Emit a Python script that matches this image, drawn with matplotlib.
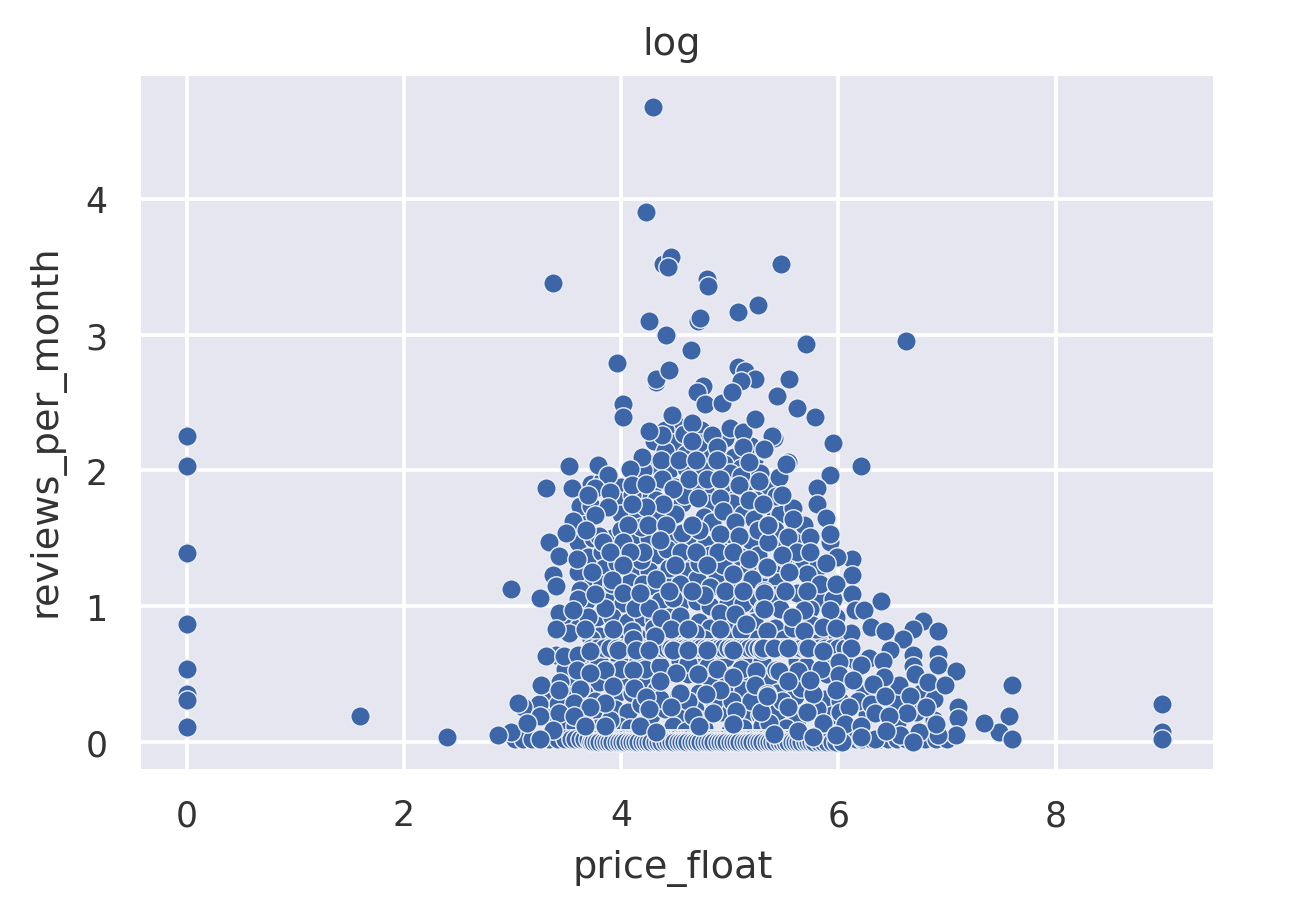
import matplotlib
matplotlib.use("Agg")
import matplotlib.pyplot as plt
import seaborn as sns

sns.set_theme()
plt.rcParams['font.family'] = ['DejaVu Sans']

title_text = "log"
x_label = "price_float"
y_label = "reviews_per_month"
x_ticks = [0, 2, 4, 6, 8]
y_ticks = [0, 1, 2, 3, 4]

# isolated points
zero_price = [(0,2.25),(0,2.03),(0,1.39),(0,0.87),(0,0.54),(0,0.35),(0,0.31),(0,0.11),(1.60,0.19),(2.40,0.04)]
high_price = [(8.98,0.28),(8.98,0.07),(8.98,0.02),(7.60,0.42),(7.57,0.19),(7.48,0.07),(7.60,0.02),(7.34,0.14)]
top_points = [(4.29,4.68),(4.23,3.90),(4.39,3.52),(4.46,3.57),(4.43,3.50),(3.37,3.38),(4.79,3.41),(4.80,3.36),(5.47,3.52),
 (5.26,3.22),(5.08,3.17),(4.26,3.10),(4.71,3.10),(4.73,3.12),(4.41,3.00),(5.70,2.93),(6.62,2.95),(4.64,2.89),(3.96,2.79),
 (4.32,2.67),(4.44,2.74),(5.08,2.76),(5.14,2.73),(5.23,2.67),(5.10,2.66),(5.55,2.67),(4.75,2.62),(4.70,2.58),(4.77,2.49),
 (4.93,2.50),(5.02,2.58),(5.44,2.55),(5.62,2.46),(5.79,2.39),(5.23,2.38),(5.95,2.20),(5.39,2.25),(5.32,2.16),(4.02,2.49),
 (4.02,2.39),(5.52,2.05),(6.21,2.03)]

# faded stripes made of many overlapping points
stripe_069_x = [3.72,3.78,3.84,3.90,3.96,4.02,4.06,4.10,4.14,4.18,4.22,4.26,4.30,4.34,4.38,4.42,4.46,4.50,4.54,4.58,4.62,4.66,4.70,4.74,
 4.78,4.82,4.86,4.90,4.94,4.98,5.02,5.06,5.10,5.14,5.18,5.22,5.26,5.30,5.34,5.38,5.42,5.46,5.50,5.54,5.58,5.62,5.66,5.70,5.76,5.82,5.88,5.94,6.00,6.06,6.12]
bottom_x = [3.02,3.10,3.18,3.26,3.34,3.42,3.48,3.54,3.58,3.62,3.66,3.70,3.73,3.76,3.79,3.82,3.85,3.88,3.91,3.94,3.97,4.00,4.03,4.06,4.09,4.12,
 4.15,4.18,4.21,4.24,4.27,4.30,4.33,4.36,4.39,4.42,4.45,4.48,4.51,4.54,4.57,4.60,4.63,4.66,4.69,4.72,4.75,4.78,4.81,4.84,4.87,4.90,4.93,4.96,
 4.99,5.02,5.05,5.08,5.11,5.14,5.17,5.20,5.23,5.26,5.29,5.32,5.35,5.38,5.41,5.44,5.47,5.50,5.53,5.56,5.59,5.62,5.65,5.68,5.71,5.74,5.77,5.80,
 5.84,5.88,5.92,5.96,6.00,6.05,6.10,6.16,6.22,6.30,6.38,6.46,6.54,6.62,6.70,6.80,6.90,7.00]
bottom_low_x = [3.72,3.74,3.77,3.80,3.83,3.86,3.89,3.92,3.95,3.98,4.01,4.04,4.07,4.10,4.13,4.16,4.19,4.22,4.25,4.28,4.31,4.34,4.37,4.40,4.43,4.46,
 4.49,4.52,4.55,4.58,4.61,4.64,4.67,4.70,4.73,4.76,4.79,4.82,4.85,4.88,4.91,4.94,4.97,5.00,5.03,5.06,5.09,5.12,5.15,5.18,5.21,5.24,5.27,5.30,
 5.33,5.36,5.39,5.42,5.45,5.48,5.51,5.54,5.57,5.60,5.63,5.66,5.69,5.72,5.75,5.78,5.82,5.86,5.90,5.94,5.98,6.03]

# interior background layer
inner_upper = [(4.52,2.33),(4.40,2.30),(4.30,2.22),(4.48,2.20),(4.58,2.27),(4.74,2.30),(4.84,2.12),(4.60,2.12),(4.96,2.24),(5.04,2.10),(4.95,2.05),
 (4.28,2.02),(4.44,2.00),(4.60,2.02),(4.76,2.00),(5.10,2.02),(5.22,2.08),(5.00,1.98),(4.15,1.95),(4.30,1.90),(4.50,1.88),(4.70,1.86),(4.85,1.84),
 (5.00,1.86),(5.18,1.92),(5.36,1.88),(5.45,1.95),(4.00,1.88),(3.95,1.78),(4.18,1.80),(4.32,1.78),(4.56,1.76),(4.80,1.76),(5.02,1.76),(5.24,1.78),(5.40,1.72),
 (3.85,1.72),(4.00,1.68),(4.16,1.68),(4.34,1.66),(4.50,1.68),(4.76,1.66),(4.84,1.62),(5.12,1.68),(5.22,1.64),(5.46,1.68),(5.58,1.72),(5.66,1.52),(3.66,1.62)]
inner_mid = [(3.60,1.47),(3.74,1.50),(3.92,1.50),(4.12,1.52),(4.26,1.50),(4.48,1.50),(4.62,1.52),(4.78,1.46),(5.02,1.50),(5.20,1.48),(5.46,1.50),
 (3.70,1.36),(3.82,1.40),(4.06,1.40),(4.32,1.38),(4.42,1.42),(4.60,1.36),(4.82,1.38),(4.95,1.40),(5.10,1.36),(5.26,1.38),(5.42,1.26),(5.60,1.30),
 (3.84,1.28),(4.14,1.28),(4.26,1.26),(4.40,1.24),(4.62,1.26),(4.70,1.20),(4.88,1.24),(5.14,1.24),(5.30,1.22),(5.44,1.18),(5.68,1.32),(5.80,1.28),
 (3.70,1.18),(3.82,1.16),(4.08,1.18),(4.20,1.16),(4.32,1.14),(4.54,1.16),(4.82,1.14),(5.04,1.14),(5.42,1.08),(5.62,1.10),(5.82,1.06),(5.95,1.05),
 (3.68,1.04),(3.90,1.04),(4.02,1.02),(4.36,1.04),(4.54,1.02),(4.70,1.04),(4.82,1.00),(4.98,1.02),(5.20,1.02),(5.46,0.98),(5.74,0.98),(5.98,0.92)]
inner_low = [(3.52,0.90),(3.60,0.84),(3.78,0.92),(3.92,0.92),(4.06,0.88),(4.20,0.92),(4.30,0.90),(4.44,0.92),(4.72,0.88),(4.82,0.84),(5.04,0.90),(5.22,0.88),
 (5.42,0.84),(5.76,0.86),(5.98,0.80),(6.06,0.76),(3.80,0.78),(4.00,0.78),(4.20,0.76),(4.38,0.78),(4.56,0.78),(4.76,0.76),(5.00,0.76),(5.24,0.76),(5.50,0.76),
 (5.82,0.74),(3.40,0.64),(3.50,0.60),(3.62,0.62),(3.80,0.60),(3.98,0.62),(4.16,0.60),(4.34,0.62),(4.54,0.60),(4.70,0.60),(4.96,0.62),(5.14,0.60),(5.30,0.60),
 (5.62,0.60),(5.96,0.60),(3.50,0.46),(3.68,0.46),(3.80,0.44),(4.02,0.46),(4.24,0.46),(4.42,0.50),(4.62,0.50),(4.80,0.46),(4.98,0.48),(5.16,0.46),(5.36,0.48),
 (5.90,0.50),(6.08,0.46),(3.34,0.34),(3.52,0.34),(3.66,0.36),(3.96,0.36),(4.10,0.36),(4.32,0.38),(4.52,0.34),(4.72,0.36),(4.96,0.36),(5.12,0.38),(5.44,0.36),
 (5.60,0.34),(5.88,0.32),(6.02,0.30),(6.24,0.36),(3.16,0.20),(3.32,0.22),(3.58,0.24),(3.74,0.22),(3.94,0.24),(4.06,0.22),(4.28,0.20),(4.40,0.24),(4.58,0.18),
 (4.68,0.24),(4.92,0.22),(5.18,0.22),(5.28,0.20),(5.44,0.22),(5.62,0.16),(5.94,0.20),(6.26,0.20),(6.54,0.14),(6.72,0.22),(6.88,0.16),(3.48,0.10),(3.58,0.12),
 (3.78,0.10),(3.98,0.12),(4.08,0.10),(4.48,0.12),(4.60,0.08),(4.76,0.10),(5.00,0.08),(5.12,0.10),(5.30,0.12),(5.52,0.10),(6.10,0.06)]
inner_gaps = [(3.72,1.90),(3.82,1.92),(3.62,1.74),(3.72,1.74),(3.60,1.25),(3.62,1.12),(3.60,1.05),(3.52,0.80),(3.70,0.92),(3.72,0.76),(3.92,0.72),(4.10,0.82),
 (4.30,0.84),(4.52,0.84),(4.68,0.80),(5.10,0.82),(5.34,0.82),(5.58,0.84),(3.64,0.52),(3.48,0.54),(3.44,0.44),(3.90,0.52),(4.00,0.54),(4.22,0.54),(4.36,0.56),
 (4.62,0.58),(4.80,0.56),(5.10,0.54),(5.24,0.52),(5.70,0.56),(5.84,0.54),(6.16,0.60),(6.28,0.62),(3.42,0.28),(3.24,0.28),(3.10,0.26),(3.66,0.14),(3.76,0.30),
 (3.90,0.16),(4.18,0.28),(4.36,0.32),(4.62,0.30),(4.72,0.16),(4.86,0.30),(5.02,0.30),(5.20,0.30),(5.36,0.14),(5.48,0.30),(5.66,0.40),(5.80,0.24),(6.02,0.22),
 (6.18,0.30),(6.30,0.28),(6.52,0.30),(6.56,0.42),(6.76,0.36),(6.88,0.32),(4.14,1.08),(4.48,1.06),(4.76,1.08),(5.12,1.02),(5.26,1.06),(3.92,1.16),(4.44,1.28),
 (4.72,1.32),(4.94,1.30),(5.18,1.28),(5.50,1.36),(3.96,1.32),(4.18,1.34),(3.80,1.52),(4.00,1.56),(4.18,1.58),(4.56,1.54),(4.72,1.56),(5.26,1.56),(5.42,1.56),
 (4.10,1.82),(4.58,1.82),(4.94,1.90),(5.10,1.96),(5.28,1.98),(4.40,2.14),(4.72,2.20),(5.20,2.18),(4.20,2.00),(4.84,2.26)]

# clearly visible points on top, left half
top_left = [(4.32,2.65),(4.47,2.41),(4.65,2.35),(4.38,2.26),(5.00,2.31),(5.12,2.28),(5.40,2.26),(4.26,2.29),(4.65,2.22),(4.88,2.17),(5.12,2.17),(5.32,2.15),
 (4.19,2.10),(4.37,2.08),(4.53,2.08),(4.69,2.08),(4.88,2.08),(5.18,2.06),(3.52,2.03),(3.79,2.04),(4.08,2.01),(3.88,1.97),(4.38,1.94),(4.63,1.94),(4.79,1.94),
 (4.91,1.94),(5.09,1.89),(5.27,1.92),(5.43,1.81),(3.31,1.87),(3.55,1.87),(3.76,1.87),(3.70,1.82),(3.90,1.84),(4.10,1.89),(4.23,1.90),(4.48,1.86),(4.71,1.80),
 (4.91,1.80),(5.18,1.78),(4.39,1.75),(4.23,1.73),(4.10,1.75),(3.88,1.73),(5.31,1.75),(4.94,1.70),(4.06,1.60),(4.25,1.60),(4.41,1.60),(4.65,1.60),(5.05,1.62),
 (5.35,1.60),(3.76,1.67),(3.56,1.63),(3.68,1.56),(3.49,1.54),(4.91,1.53),(5.09,1.52),(4.36,1.49),(4.02,1.47),(3.83,1.47),(5.35,1.47),(3.34,1.47),(3.90,1.40),
 (4.20,1.40),(4.55,1.40),(4.69,1.40),(4.89,1.40),(5.03,1.40),(5.18,1.35),(3.43,1.37),(3.59,1.35),(4.08,1.40),(4.50,1.30),(4.79,1.30),(4.02,1.30),(3.73,1.25),
 (5.33,1.28),(5.03,1.24),(3.37,1.23),(4.32,1.20),(3.92,1.19),(5.21,1.20),(3.40,1.15),(2.99,1.13),(3.25,1.06),(4.44,1.11),(4.65,1.11),(4.96,1.11),(5.12,1.11),
 (5.32,1.11),(3.76,1.09),(4.02,1.10),(4.17,1.10)]
top_low = [(3.85,0.99),(4.13,0.99),(4.26,0.99),(3.43,0.95),(3.56,0.97),(4.37,0.91),(4.54,0.93),(4.91,0.95),(5.05,0.94),(5.31,0.99),(5.15,0.87),(3.40,0.83),(3.67,0.83),
 (3.93,0.83),(4.46,0.83),(4.62,0.83),(4.91,0.83),(4.31,0.78),(4.11,0.76),(3.31,0.63),(3.47,0.63),(3.60,0.64),(3.71,0.67),(3.97,0.68),(4.14,0.68),(4.26,0.68),
 (4.48,0.68),(4.62,0.68),(4.79,0.68),(5.03,0.68),(5.30,0.68),(3.85,0.53),(3.59,0.53),(3.71,0.51),(4.11,0.53),(4.88,0.54),(4.71,0.50),(5.03,0.48),(5.43,0.53),
 (4.51,0.51),(3.26,0.42),(3.43,0.38),(3.62,0.39),(3.93,0.41),(4.12,0.40),(4.36,0.45),(4.91,0.38),(5.23,0.42),(4.54,0.36),(4.78,0.35),(5.34,0.35),(3.05,0.29),
 (3.85,0.29),(3.57,0.29),(3.71,0.26),(4.23,0.33),(3.25,0.19),(3.43,0.21),(3.57,0.19),(4.46,0.26),(4.85,0.21),(5.06,0.23),(5.29,0.22),(4.26,0.24),(4.66,0.19),
 (2.99,0.07),(2.87,0.05),(3.13,0.14),(3.37,0.09),(3.67,0.12),(3.85,0.12),(4.17,0.12),(4.32,0.07),(4.72,0.12),(5.03,0.13),(3.25,0.02),(5.41,0.06)]

# clearly visible points on top, right half
top_right = [(5.41,2.24),(5.54,2.06),(5.92,1.97),(5.80,1.87),(5.48,1.82),(5.80,1.75),(5.89,1.65),(5.68,1.60),(5.35,1.60),(5.58,1.64),(5.54,1.51),(5.92,1.47),
 (5.92,1.53),(5.74,1.51),(5.62,1.40),(5.48,1.38),(5.74,1.40),(6.13,1.35),(5.99,1.36),(5.89,1.32),(5.34,1.29),(6.13,1.23),(5.71,1.24),(5.55,1.25),(5.83,1.16),
 (5.98,1.16),(6.13,1.09),(5.32,1.10),(5.51,1.11),(5.71,1.11),(6.39,1.04),(5.92,0.97),(6.15,0.97),(6.24,0.97),(5.68,0.97),(5.32,0.98),(5.57,0.92),(5.86,0.85),
 (6.30,0.85),(6.43,0.82),(6.78,0.89),(6.69,0.83),(6.92,0.82),(6.60,0.76),(6.12,0.80),(5.68,0.82),(5.98,0.84),(5.31,0.69),(5.41,0.69),(5.54,0.69),(5.72,0.69),
 (5.86,0.67),(6.12,0.69),(6.48,0.68),(6.69,0.64),(6.92,0.65),(6.92,0.57),(6.69,0.56),(6.21,0.57),(6.01,0.59),(6.41,0.60),(5.45,0.52),(5.63,0.52),(6.42,0.48),
 (6.71,0.50),(7.08,0.52),(6.83,0.44),(6.98,0.42),(6.01,0.49),(5.77,0.35),(5.98,0.38),(6.32,0.43),(6.14,0.46),(5.74,0.46),(5.54,0.45),(6.66,0.34),(6.43,0.34),
 (6.81,0.26),(7.10,0.26),(7.10,0.18),(6.10,0.26),(5.54,0.26),(6.34,0.21),(6.63,0.21),(6.47,0.19),(5.71,0.22),(5.34,0.34),(5.86,0.14),(6.06,0.13),(6.21,0.12),
 (7.08,0.05),(6.92,0.05),(6.74,0.07),(6.57,0.05),(6.34,0.02),(5.98,0.05),(5.63,0.08),(5.77,0.04),(6.21,0.04),(6.69,0.00),(6.44,0.08),(6.90,0.13)]


def split(points):
    return [p[0] for p in points], [p[1] for p in points]


fig, ax = plt.subplots(figsize=(13, 9.12), dpi=100)
fig.patch.set_facecolor("white")
fig.subplots_adjust(left=141/1300, right=1213/1300, top=1-77/912, bottom=1-770/912)
ax.set_facecolor("#e6e6f0")
for spine in ax.spines.values():
    spine.set_visible(False)
ax.grid(True, color="white", linewidth=2.7)
ax.set_axisbelow(True)

style = dict(s=195, color="#3d66a8", edgecolor="#eef0f6", linewidth=1.0)

ax.scatter(*split(inner_upper), **style)
ax.scatter(*split(inner_mid), **style)
ax.scatter(*split(inner_low), **style)
ax.scatter(*split(inner_gaps), **style)
ax.scatter(stripe_069_x, [0.69] * len(stripe_069_x), **style)
ax.scatter(bottom_x, [0.02] * len(bottom_x), **style)
ax.scatter(bottom_low_x, [0.00] * len(bottom_low_x), **style)
ax.scatter(*split(top_low), **style)
ax.scatter(*split(top_left), **style)
ax.scatter(*split(top_right), **style)
ax.scatter(*split(top_points), **style)
ax.scatter(*split(zero_price), **style)
ax.scatter(*split(high_price), **style)

ax.set_xlim(-0.42, 9.45)
ax.set_ylim(-0.199, 4.905)
ax.set_xticks(x_ticks)
ax.set_yticks(y_ticks)
ax.tick_params(labelsize=25, length=0, labelcolor="#333333")
ax.tick_params(axis="x", pad=21)
ax.tick_params(axis="y", pad=24)
ax.set_xlabel(x_label, fontsize=27.5, color="#333333", labelpad=12, x=0.496)
ax.set_ylabel(y_label, fontsize=27.5, color="#333333", labelpad=15, y=0.49)
ax.set_title(title_text, fontsize=27.5, color="#333333", pad=16, x=0.495)

fig.savefig("out.png", dpi=100)
